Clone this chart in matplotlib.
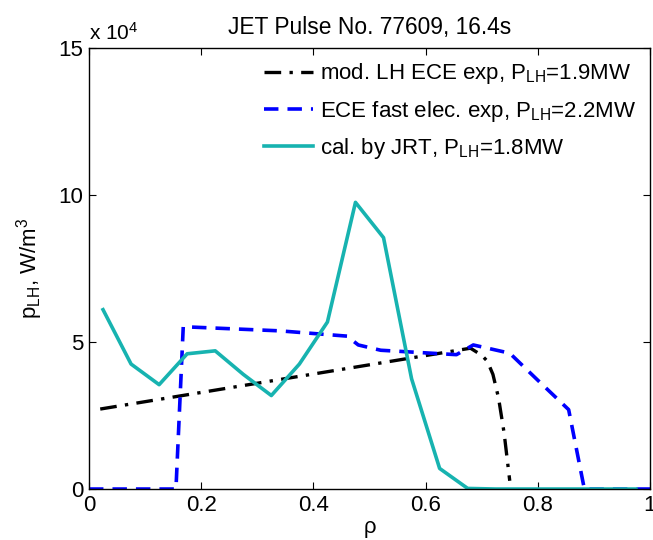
import matplotlib
matplotlib.use("Agg")
import matplotlib.pyplot as plt
import numpy as np

plt.rcParams['font.family'] = ['Liberation Sans', 'DejaVu Sans']
plt.rcParams['mathtext.fontset'] = 'custom'
plt.rcParams['mathtext.rm'] = 'Liberation Sans'
plt.rcParams['mathtext.it'] = 'Liberation Sans'

# p_LH profiles, W/m^3
rho_ece = [0.02, 0.68, 0.70, 0.71, 0.72, 0.73, 0.74, 0.75]
p_ece = [27200, 47900, 45500, 43500, 39000, 31000, 19000, 2800]

rho_fast = [0.0, 0.155, 0.168, 0.34, 0.46, 0.48, 0.52, 0.655, 0.685, 0.75, 0.80, 0.855, 0.883, 1.0]
p_fast = [0, 0, 55200, 53800, 52000, 49000, 47200, 45700, 49000, 46200, 37000, 27000, 0, 0]

rho_jrt = [0.025, 0.075, 0.125, 0.175, 0.225, 0.275, 0.325, 0.375, 0.425, 0.475,
           0.525, 0.575, 0.625, 0.675, 0.725, 0.775, 0.825, 0.875, 0.925, 0.975]
p_jrt = [61000, 42500, 35500, 46000, 47000, 39000, 31800, 42500, 56800, 97500,
         85500, 37500, 7000, 200, 0, 0, 0, 0, 0, 0]

labels = ['mod. LH ECE exp, P$_{\\rm LH}$=1.9MW',
          'ECE fast elec. exp, P$_{\\rm LH}$=2.2MW',
          'cal. by JRT, P$_{\\rm LH}$=1.8MW']

scale = 1e4

fig = plt.figure(figsize=(6.53, 5.40), dpi=100)
ax = fig.add_axes([0.1363, 0.0944, 0.8591, 0.8167])

ax.plot(rho_ece, np.array(p_ece) / scale, color='black', lw=2.4,
        linestyle=(0, (5, 2.5, 1, 2.5)), label=labels[0])
ax.plot(rho_fast, np.array(p_fast) / scale, color='#0000ff', lw=2.6,
        linestyle=(0, (4, 2.5)), label=labels[1])
ax.plot(rho_jrt, np.array(p_jrt) / scale, color='#17b3b0', lw=2.6,
        label=labels[2])

ax.set_xlim(0, 1)
ax.set_ylim(0, 15)
ax.set_xticks([0, 0.2, 0.4, 0.6, 0.8, 1])
ax.set_xticklabels(['0', '0.2', '0.4', '0.6', '0.8', '1'])
ax.set_yticks([0, 5, 10, 15])
ax.tick_params(direction='in', top=True, right=True, labelsize=16, length=5,
               width=0.8, pad=4)
for s in ax.spines.values():
    s.set_linewidth(1.0)

ax.set_xlabel('\u03c1', fontsize=16, labelpad=1)
ax.set_ylabel('p$_{\\rm LH}$, W/m$^3$', fontsize=16, labelpad=10)
ax.set_title('JET Pulse No. 77609, 16.4s', fontsize=16.4, pad=10)
ax.text(0.0, 1.01, 'x 10$^4$', transform=ax.transAxes, fontsize=15,
        ha='left', va='bottom')

leg = ax.legend(loc='upper right', frameon=False, fontsize=16, handlelength=2.2,
                handletextpad=0.35, labelspacing=0.55, borderaxespad=0.3,
                borderpad=0.3)

fig.savefig('out.png', dpi=100)
